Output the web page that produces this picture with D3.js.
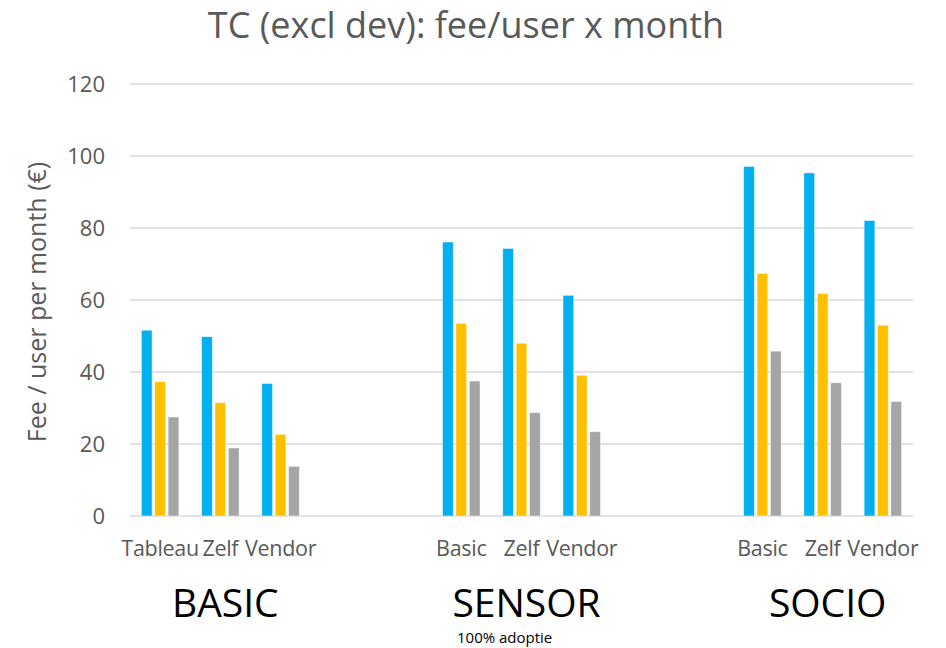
<!DOCTYPE html>
<html>
<head>
<meta charset="utf-8">
<script src="https://cdn.jsdelivr.net/npm/d3@7"></script>
<style>
  body { margin: 0; background: #fff; }
  svg { display: block; font-family: "Open Sans", sans-serif; }
</style>
</head>
<body>
<div id="chart"></div>
<script>
// data
const groups = ['BASIC', 'SENSOR', 'SOCIO'];
const subcats = [
  ['Tableau', 'Zelf', 'Vendor'],
  ['Basic', 'Zelf', 'Vendor'],
  ['Basic', 'Zelf', 'Vendor']
];
const seriesNames = ['blue', 'yellow', 'gray'];
const seriesColors = ['#00B0F0', '#FFC000', '#A5A5A5'];
const blueValues   = [51.6, 49.8, 36.8, 76.1, 74.3, 61.3, 97.1, 95.3, 82.1];
const yellowValues = [37.3, 31.5, 22.7, 53.5, 48.0, 39.1, 67.4, 61.8, 53.0];
const grayValues   = [27.5, 18.9, 13.8, 37.5, 28.7, 23.4, 45.8, 37.0, 31.8];
const yTicks = [0, 20, 40, 60, 80, 100, 120];
const gapSlots = 2; // empty categories between groups

const W = 946, H = 648;
const margin = { left: 130, right: 33, top: 84, bottom: 132 };

const svg = d3.select('#chart').append('svg')
  .attr('width', W).attr('height', H);

// build the slot list (incl. empty slots between groups)
const slots = [];
groups.forEach((g, gi) => {
  subcats[gi].forEach((s, si) => slots.push({ key: g + '|' + s, label: s, group: g, idx: gi * 3 + si }));
  if (gi < groups.length - 1) {
    for (let k = 0; k < gapSlots; k++) slots.push({ key: g + '|gap' + k, label: '', group: null, idx: null });
  }
});
const allValues = [blueValues, yellowValues, grayValues];

const x = d3.scaleBand()
  .domain(slots.map(d => d.key))
  .range([margin.left, W - margin.right])
  .padding(0);

const xi = d3.scaleBand()
  .domain(seriesNames)
  .range([0, x.bandwidth()])
  .paddingInner(0.2)
  .paddingOuter(0.85);

const y = d3.scaleLinear()
  .domain([0, 120])
  .range([H - margin.bottom, margin.top]);

// gridlines
svg.append('g')
  .selectAll('line')
  .data(yTicks)
  .join('line')
  .attr('x1', margin.left).attr('x2', W - margin.right)
  .attr('y1', d => y(d)).attr('y2', d => y(d))
  .attr('stroke', '#D9D9D9')
  .attr('stroke-width', 1.5);

// y tick labels
svg.append('g')
  .selectAll('text')
  .data(yTicks)
  .join('text')
  .attr('x', 105)
  .attr('y', d => y(d))
  .attr('dy', '0.35em')
  .attr('text-anchor', 'end')
  .attr('fill', '#595959')
  .attr('font-size', 22)
  .text(d => d);

// bars
const real = slots.filter(d => d.idx !== null);
const slotG = svg.append('g')
  .selectAll('g')
  .data(real)
  .join('g')
  .attr('transform', d => `translate(${x(d.key)},0)`);

slotG.selectAll('rect')
  .data(d => seriesNames.map((s, i) => ({ s, i, v: allValues[i][d.idx] })))
  .join('rect')
  .attr('x', d => xi(d.s))
  .attr('width', xi.bandwidth())
  .attr('y', d => y(d.v))
  .attr('height', d => y(0) - y(d.v))
  .attr('fill', d => seriesColors[d.i])
  .attr('stroke', '#fff')
  .attr('stroke-opacity', 0.6)
  .attr('stroke-width', 0.75);

// category labels
svg.append('g')
  .selectAll('text')
  .data(real)
  .join('text')
  .attr('x', d => x(d.key) + x.bandwidth() / 2)
  .attr('y', 556)
  .attr('text-anchor', 'middle')
  .attr('fill', '#595959')
  .attr('font-size', 21.5)
  .attr('letter-spacing', -0.3)
  .text(d => d.label);

// group labels
svg.append('g')
  .selectAll('text')
  .data(groups)
  .join('text')
  .attr('x', g => x(g + '|' + subcats[groups.indexOf(g)][1]) + x.bandwidth() / 2 + 5)
  .attr('y', 617)
  .attr('text-anchor', 'middle')
  .attr('fill', '#000')
  .attr('font-size', 39)
  .text(g => g);

svg.append('text')
  .attr('x', 457)
  .attr('y', 643)
  .attr('fill', '#000')
  .attr('font-size', 15)
  .text('100% adoptie');

// title
svg.append('text')
  .attr('x', 466)
  .attr('y', 38)
  .attr('text-anchor', 'middle')
  .attr('fill', '#595959')
  .attr('font-size', 36)
  .text('TC (excl dev): fee/user x month');

// y-axis title
svg.append('text')
  .attr('transform', `translate(46,${(y(0) + y(120)) / 2 + 2}) rotate(-90)`)
  .attr('text-anchor', 'middle')
  .attr('fill', '#595959')
  .attr('font-size', 25)
  .text('Fee / user per month (€)');
</script>
</body>
</html>
